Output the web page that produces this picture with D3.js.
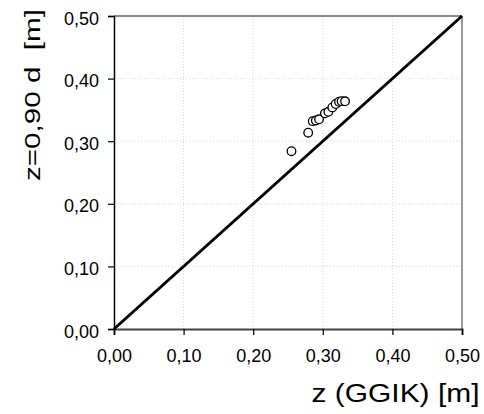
<!DOCTYPE html>
<html>
<head>
<meta charset="utf-8">
<script src="https://cdn.jsdelivr.net/npm/d3@7"></script>
<style>
  html, body { margin: 0; padding: 0; background: #fff; }
  svg { display: block; }
  text { font-family: Arial, "Liberation Sans", sans-serif; fill: #000; }
</style>
</head>
<body>
<svg id="chart" width="484" height="414"></svg>
<script>
// Data
const xValues = [0.255, 0.279, 0.2855, 0.290, 0.2946, 0.303, 0.308, 0.3137, 0.3185, 0.3233, 0.327, 0.332];
const yValues = [0.284, 0.3136, 0.332, 0.333, 0.335, 0.3445, 0.347, 0.354, 0.3594, 0.363, 0.364, 0.3637];
const tickValues = [0, 0.1, 0.2, 0.3, 0.4, 0.5];
const lineX = [0, 0.5];
const lineY = [0, 0.5];
const xTitle = "z (GGIK) [m]";
const yTitle = "z=0,90 d  [m]";

const svg = d3.select("#chart");
const pLeft = 114, pRight = 462, pTop = 16, pBottom = 329;

const x = d3.scaleLinear().domain([0, 0.5]).range([pLeft, pRight]);
const y = d3.scaleLinear().domain([0, 0.5]).range([pBottom, pTop]);
const fmt = v => d3.format(".2f")(v).replace(".", ",");

// gridlines
const inner = tickValues.filter(v => v > 0 && v < 0.5);
svg.append("g").selectAll("line").data(inner).join("line")
  .attr("x1", d => x(d)).attr("x2", d => x(d))
  .attr("y1", pTop).attr("y2", pBottom)
  .attr("stroke", "#d8d8d8").attr("stroke-width", 1).attr("stroke-dasharray", "1,2");
svg.append("g").selectAll("line").data(inner).join("line")
  .attr("y1", d => y(d)).attr("y2", d => y(d))
  .attr("x1", pLeft).attr("x2", pRight)
  .attr("stroke", "#d8d8d8").attr("stroke-width", 1).attr("stroke-dasharray", "1,2");

// frame top and right
svg.append("line").attr("x1", pLeft).attr("x2", pRight).attr("y1", pTop).attr("y2", pTop)
  .attr("stroke", "#888").attr("stroke-width", 2);
svg.append("line").attr("x1", pRight).attr("x2", pRight).attr("y1", pTop).attr("y2", pBottom)
  .attr("stroke", "#777").attr("stroke-width", 1.5);

// x axis
const xAxis = svg.append("g").attr("transform", `translate(0,${pBottom})`)
  .call(d3.axisBottom(x).tickValues(tickValues).tickFormat(fmt).tickSize(6).tickPadding(14));
xAxis.select(".domain").attr("stroke", "#444").attr("stroke-width", 2);
xAxis.selectAll(".tick line").attr("stroke", "#000").attr("stroke-width", 1.2);
xAxis.selectAll(".tick text").attr("font-size", 18).attr("font-family", "Arial, 'Liberation Sans', sans-serif").attr("fill", "#000");

// y axis
const yAxis = svg.append("g").attr("transform", `translate(${pLeft},0)`)
  .call(d3.axisLeft(y).tickValues(tickValues).tickFormat(fmt).tickSize(6).tickPadding(9));
yAxis.select(".domain").attr("stroke", "#000").attr("stroke-width", 1.5);
yAxis.selectAll(".tick line").attr("stroke", "#000").attr("stroke-width", 1.2);
yAxis.selectAll(".tick text").attr("font-size", 18).attr("font-family", "Arial, 'Liberation Sans', sans-serif").attr("fill", "#000").attr("dy", "0.45em");

// diagonal line
svg.append("line")
  .attr("x1", x(lineX[0])).attr("y1", y(lineY[0]))
  .attr("x2", x(lineX[1])).attr("y2", y(lineY[1]))
  .attr("stroke", "#000").attr("stroke-width", 3);

// points
svg.append("g").selectAll("circle").data(xValues.map((v, i) => [v, yValues[i]])).join("circle")
  .attr("cx", d => x(d[0])).attr("cy", d => y(d[1])).attr("r", 4.3)
  .attr("fill", "#fff").attr("stroke", "#000").attr("stroke-width", 1.3);

// titles
svg.append("text").attr("x", 311.5).attr("y", 402)
  .attr("font-size", 26).attr("textLength", 168).attr("lengthAdjust", "spacingAndGlyphs")
  .text(xTitle);
svg.append("text").attr("transform", "translate(39.5,181) rotate(-90)")
  .attr("font-size", 22).attr("textLength", 172).attr("lengthAdjust", "spacingAndGlyphs")
  .style("white-space", "pre")
  .text(yTitle);
</script>
</body>
</html>
